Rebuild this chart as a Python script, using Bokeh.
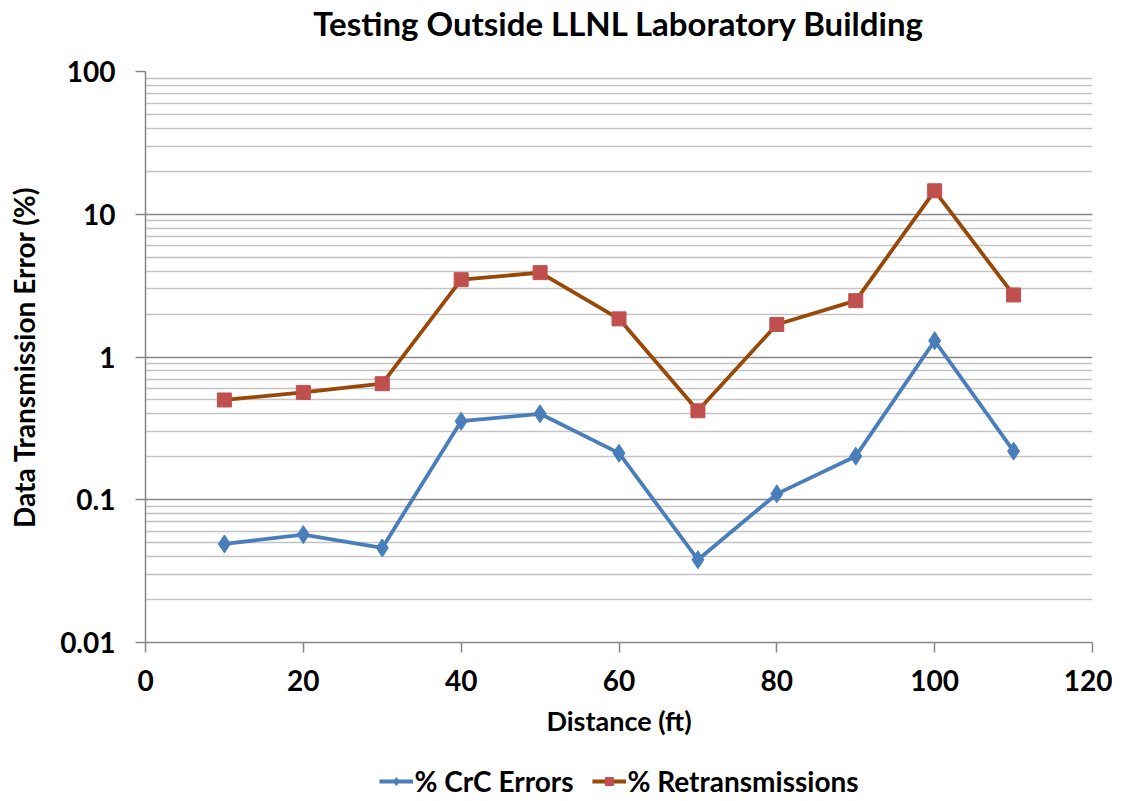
from bokeh.plotting import figure
from bokeh.layouts import column
from bokeh.models import FixedTicker, CustomJSTickFormatter, Legend, LegendItem, Range1d, Label
from bokeh.embed import file_html
from bokeh.resources import INLINE

distance = [10, 20, 30, 40, 50, 60, 70, 80, 90, 100, 110]
crc_errors = [0.049, 0.057, 0.046, 0.355, 0.40, 0.212, 0.038, 0.110, 0.202, 1.30, 0.219]
retrans = [0.50, 0.565, 0.65, 3.48, 3.90, 1.85, 0.42, 1.69, 2.48, 14.6, 2.72]
series_names = ["% CrC Errors", "% Retransmissions"]

y_major = [0.01, 0.1, 1, 10, 100]
y_minor = [m * d for d in [0.01, 0.1, 1, 10] for m in range(2, 10)]
x_ticks = [0, 20, 40, 60, 80, 100, 120]

FONT = "Lato"
W = 1112
blue = "#4a7ebb"
brown = "#984807"
red = "#c0504d"


def blank(height, lo, hi):
    f = figure(width=W, height=height, toolbar_location=None, output_backend="svg",
               x_range=Range1d(lo, hi), y_range=Range1d(lo, hi), min_border=0)
    f.axis.visible = False
    f.grid.grid_line_color = None
    f.outline_line_color = None
    return f


# title strip
pt = blank(44, 0, 1)
pt.add_layout(Label(x=0.5, y=0.5, text="Testing Outside LLNL Laboratory Building",
                    text_align="center", text_baseline="middle", text_font=FONT,
                    text_font_size="33px", text_font_style="bold", text_color="black"))

# main chart
p = figure(frame_width=947, frame_height=571, y_axis_type="log", output_backend="svg",
           toolbar_location=None, x_range=Range1d(0, 120), y_range=Range1d(0.01, 100),
           min_border_left=145, min_border_right=20, min_border_top=27, min_border_bottom=119)
p.outline_line_color = None

p.xgrid.grid_line_color = None
p.ygrid.ticker = FixedTicker(ticks=y_major, minor_ticks=y_minor)
p.ygrid.grid_line_color = "#868686"
p.ygrid.grid_line_width = 1.3
p.ygrid.minor_grid_line_color = "#c4c4c4"
p.ygrid.minor_grid_line_width = 1.3

p.yaxis.ticker = FixedTicker(ticks=y_major, minor_ticks=y_minor)
p.yaxis.formatter = CustomJSTickFormatter(code="return String(parseFloat(tick.toPrecision(3)));")
p.xaxis.ticker = FixedTicker(ticks=x_ticks)

for ax in (p.xaxis, p.yaxis):
    ax.axis_line_color = "#868686"
    ax.axis_line_width = 1.5
    ax.major_tick_line_color = "#868686"
    ax.major_tick_line_width = 1.5
    ax.major_tick_out = 10
    ax.major_tick_in = 0
    ax.minor_tick_line_color = None
    ax.major_label_text_font = FONT
    ax.major_label_text_font_style = "bold"
    ax.major_label_text_font_size = "28px"
    ax.major_label_text_color = "black"
    ax.axis_label_text_font = FONT
    ax.axis_label_text_font_style = "bold"
    ax.axis_label_text_color = "black"

p.xaxis.axis_label_text_font_size = "27px"
p.yaxis.axis_label_text_font_size = "28px"
p.xaxis.axis_label = "Distance (ft)"
p.yaxis.axis_label = "Data Transmission Error (%)"
p.yaxis.major_label_standoff = 20
p.xaxis.major_label_standoff = 17
p.xaxis.axis_label_standoff = 10
p.yaxis.axis_label_standoff = 16

p.line(distance, crc_errors, line_color=blue, line_width=3.8)
p.scatter(distance, crc_errors, marker="diamond", size=18, fill_color=blue, line_color=blue)
p.line(distance, retrans, line_color=brown, line_width=3.8)
p.scatter(distance, retrans, marker="square", size=14, fill_color=red, line_color=red)

# legend strip (same series drawn out of view so only the legend shows)
pl = blank(40, -2, -1)
k1 = pl.line(distance, crc_errors, line_color=blue, line_width=3.8)
s1 = pl.scatter(distance, crc_errors, marker="diamond", size=18, fill_color=blue, line_color=blue)
k2 = pl.line(distance, retrans, line_color=brown, line_width=3.8)
s2 = pl.scatter(distance, retrans, marker="square", size=14, fill_color=red, line_color=red)
legend = Legend(items=[LegendItem(label=series_names[0], renderers=[k1, s1]),
                       LegendItem(label=series_names[1], renderers=[k2, s2])],
                orientation="horizontal", location="center",
                label_text_font=FONT, label_text_font_style="bold",
                label_text_font_size="28px", label_text_color="black",
                border_line_color=None, background_fill_alpha=0,
                glyph_width=34, spacing=18, margin=0, padding=0, label_standoff=2)
pl.add_layout(legend, "center")

layout = column(pt, p, pl, spacing=0)
open("out.html", "w").write(file_html(layout, INLINE))
